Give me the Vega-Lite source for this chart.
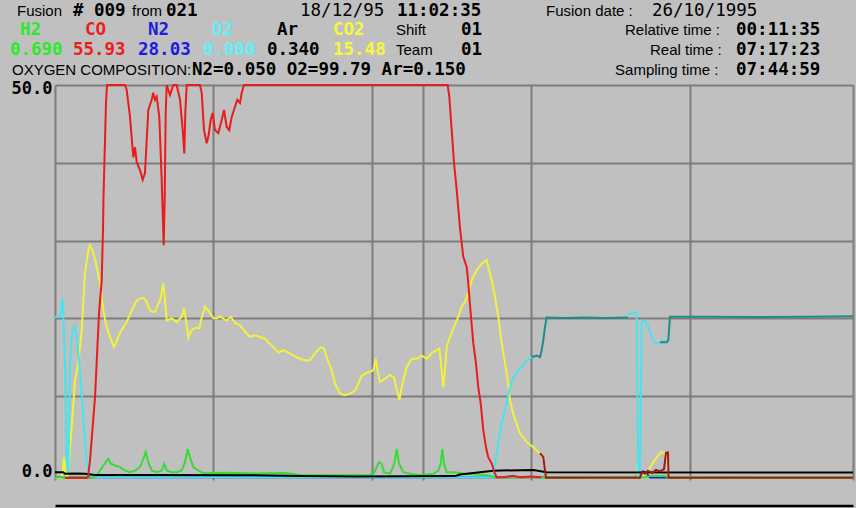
{
"$schema": "https://vega.github.io/schema/vega-lite/v6.json",
"width": 798, "height": 395,
"autosize": {"type": "none"},
"padding": {"left": 55, "top": 85, "right": 3, "bottom": 28},
"background": "#C0C0C0",
"config": {"view": {"stroke": null}},
"datasets": {
"gas": [
{"gas":"CO","t":10,"v":-0.55},{"gas":"CO","t":32,"v":-0.55},{"gas":"CO","t":33,"v":-0.4},{"gas":"CO","t":35,"v":1.7},{"gas":"CO","t":40,"v":9.8},{"gas":"CO","t":44,"v":20.6},{"gas":"CO","t":46.7,"v":24.9},{"gas":"CO","t":48,"v":31.3},{"gas":"CO","t":48.5,"v":35.6},{"gas":"CO","t":51,"v":47.7},{"gas":"CO","t":52,"v":50},{"gas":"CO","t":70,"v":50},{"gas":"CO","t":71.7,"v":49.35},{"gas":"CO","t":75,"v":45.9},{"gas":"CO","t":78.3,"v":40.7},{"gas":"CO","t":80,"v":42.0},{"gas":"CO","t":81.7,"v":40.1},{"gas":"CO","t":85,"v":39.05},{"gas":"CO","t":87.7,"v":37.8},{"gas":"CO","t":90,"v":38.7},{"gas":"CO","t":91.7,"v":42.9},{"gas":"CO","t":93.3,"v":46.8},{"gas":"CO","t":96.7,"v":48.1},{"gas":"CO","t":98.3,"v":49.0},{"gas":"CO","t":100,"v":48.1},{"gas":"CO","t":101.7,"v":48.5},{"gas":"CO","t":104.3,"v":45.9},{"gas":"CO","t":106.7,"v":37.8},{"gas":"CO","t":107.7,"v":33.5},{"gas":"CO","t":108.7,"v":29.4},{"gas":"CO","t":109.7,"v":35.6},{"gas":"CO","t":110.7,"v":46.4},{"gas":"CO","t":111.7,"v":50},{"gas":"CO","t":115,"v":48.7},{"gas":"CO","t":118.3,"v":50},{"gas":"CO","t":121.7,"v":50},{"gas":"CO","t":125,"v":48.1},{"gas":"CO","t":127.7,"v":44.2},{"gas":"CO","t":129.3,"v":41.2},{"gas":"CO","t":130.3,"v":46.4},{"gas":"CO","t":131.7,"v":50},{"gas":"CO","t":145,"v":50},{"gas":"CO","t":146.7,"v":49.0},{"gas":"CO","t":149,"v":44.2},{"gas":"CO","t":151.7,"v":42.5},{"gas":"CO","t":153.3,"v":43.3},{"gas":"CO","t":155.7,"v":45.5},{"gas":"CO","t":157.7,"v":46.4},{"gas":"CO","t":160,"v":44.2},{"gas":"CO","t":163.3,"v":43.8},{"gas":"CO","t":166.7,"v":45.5},{"gas":"CO","t":169,"v":46.8},{"gas":"CO","t":171.7,"v":44.6},{"gas":"CO","t":174.3,"v":44.2},{"gas":"CO","t":176.7,"v":45.9},{"gas":"CO","t":180,"v":47.2},{"gas":"CO","t":182.3,"v":48.1},{"gas":"CO","t":185,"v":47.7},{"gas":"CO","t":186.7,"v":49.0},{"gas":"CO","t":189,"v":50},{"gas":"CO","t":392.7,"v":50},{"gas":"CO","t":394.3,"v":48.5},{"gas":"CO","t":396.7,"v":44.2},{"gas":"CO","t":399,"v":40.0},{"gas":"CO","t":401.7,"v":36.5},{"gas":"CO","t":405,"v":31.6},{"gas":"CO","t":406.7,"v":29.65},{"gas":"CO","t":408.3,"v":27.9},{"gas":"CO","t":411.7,"v":26.6},{"gas":"CO","t":413.3,"v":24.5},{"gas":"CO","t":415.7,"v":20.6},{"gas":"CO","t":418.3,"v":16.8},{"gas":"CO","t":421,"v":14.2},{"gas":"CO","t":423.3,"v":11.1},{"gas":"CO","t":425.7,"v":9.05},{"gas":"CO","t":428.3,"v":5.6},{"gas":"CO","t":431,"v":3.4},{"gas":"CO","t":433.3,"v":2.1},{"gas":"CO","t":436.7,"v":1.33},{"gas":"CO","t":439.3,"v":0.2},{"gas":"CO","t":441.7,"v":-0.44},{"gas":"CO","t":450,"v":-0.4},{"gas":"CO","t":458,"v":-0.25},{"gas":"CO","t":465,"v":-0.45},{"gas":"CO","t":475,"v":-0.35},{"gas":"CO","t":486,"v":-0.45},

{"gas":"CO hold","t":485,"v":2.65},{"gas":"CO hold","t":488.3,"v":2.14},{"gas":"CO hold","t":490,"v":0.42},{"gas":"CO hold","t":491,"v":-0.5},{"gas":"CO hold","t":585,"v":-0.5},{"gas":"CO hold","t":587,"v":0.2},{"gas":"CO hold","t":590,"v":0.0},{"gas":"CO hold","t":593,"v":0.4},{"gas":"CO hold","t":597,"v":0.1},{"gas":"CO hold","t":601,"v":0.5},{"gas":"CO hold","t":605,"v":0.3},{"gas":"CO hold","t":609,"v":0.6},{"gas":"CO hold","t":611,"v":2.7},{"gas":"CO hold","t":613,"v":2.75},{"gas":"CO hold","t":613.5,"v":-0.5},{"gas":"CO hold","t":798,"v":-0.5},

{"gas":"CO2","t":0,"v":-0.5},{"gas":"CO2","t":7,"v":-0.5},{"gas":"CO2","t":9,"v":2.1},{"gas":"CO2","t":11,"v":-0.5},{"gas":"CO2","t":12.5,"v":-0.4},{"gas":"CO2","t":14,"v":1.7},{"gas":"CO2","t":16.7,"v":6.0},{"gas":"CO2","t":20,"v":12.0},{"gas":"CO2","t":23.3,"v":14.2},{"gas":"CO2","t":26.7,"v":18.4},{"gas":"CO2","t":30,"v":25.8},{"gas":"CO2","t":33.3,"v":28.8},{"gas":"CO2","t":35,"v":29.4},{"gas":"CO2","t":38.3,"v":28.4},{"gas":"CO2","t":41.7,"v":26.6},{"gas":"CO2","t":45,"v":24.5},{"gas":"CO2","t":48.3,"v":21.0},{"gas":"CO2","t":51.7,"v":18.8},{"gas":"CO2","t":55,"v":17.6},{"gas":"CO2","t":59,"v":16.3},{"gas":"CO2","t":63.3,"v":17.6},{"gas":"CO2","t":65,"v":18.1},{"gas":"CO2","t":68.3,"v":18.8},{"gas":"CO2","t":71.7,"v":19.5},{"gas":"CO2","t":76.7,"v":21.0},{"gas":"CO2","t":81.7,"v":22.3},{"gas":"CO2","t":86.7,"v":22.6},{"gas":"CO2","t":88.3,"v":22.6},{"gas":"CO2","t":91,"v":22.3},{"gas":"CO2","t":95,"v":21.0},{"gas":"CO2","t":98.3,"v":20.8},{"gas":"CO2","t":100,"v":20.8},{"gas":"CO2","t":103.3,"v":21.9},{"gas":"CO2","t":105,"v":22.2},{"gas":"CO2","t":108.3,"v":24.5},{"gas":"CO2","t":110,"v":22.3},{"gas":"CO2","t":111.7,"v":19.7},{"gas":"CO2","t":116.7,"v":20.0},{"gas":"CO2","t":121.7,"v":19.5},{"gas":"CO2","t":126.7,"v":20.2},{"gas":"CO2","t":129,"v":21.3},{"gas":"CO2","t":131,"v":19.7},{"gas":"CO2","t":133.3,"v":17.5},{"gas":"CO2","t":136.7,"v":18.5},{"gas":"CO2","t":141.7,"v":18.8},{"gas":"CO2","t":144.3,"v":18.7},{"gas":"CO2","t":146.7,"v":20.1},{"gas":"CO2","t":150,"v":21.5},{"gas":"CO2","t":153.3,"v":21.0},{"gas":"CO2","t":158.3,"v":20.0},{"gas":"CO2","t":161.7,"v":20.0},{"gas":"CO2","t":165,"v":20.2},{"gas":"CO2","t":171.7,"v":19.7},{"gas":"CO2","t":175.7,"v":20.2},{"gas":"CO2","t":180,"v":19.4},{"gas":"CO2","t":185,"v":19.1},{"gas":"CO2","t":190,"v":18.3},{"gas":"CO2","t":195,"v":17.6},{"gas":"CO2","t":200,"v":17.8},{"gas":"CO2","t":205,"v":17.6},{"gas":"CO2","t":210,"v":17.4},{"gas":"CO2","t":213.3,"v":16.9},{"gas":"CO2","t":218.3,"v":16.3},{"gas":"CO2","t":223.3,"v":15.6},{"gas":"CO2","t":228.3,"v":15.9},{"gas":"CO2","t":233.3,"v":15.6},{"gas":"CO2","t":238.3,"v":15.2},{"gas":"CO2","t":245,"v":14.8},{"gas":"CO2","t":250,"v":14.6},{"gas":"CO2","t":255,"v":14.6},{"gas":"CO2","t":260,"v":15.5},{"gas":"CO2","t":265.7,"v":16.3},{"gas":"CO2","t":269,"v":16.1},{"gas":"CO2","t":271.7,"v":15.0},{"gas":"CO2","t":276.7,"v":13.3},{"gas":"CO2","t":280,"v":11.6},{"gas":"CO2","t":285,"v":10.3},{"gas":"CO2","t":290,"v":10.1},{"gas":"CO2","t":295,"v":10.3},{"gas":"CO2","t":300,"v":10.7},{"gas":"CO2","t":303.3,"v":11.6},{"gas":"CO2","t":306.7,"v":12.6},{"gas":"CO2","t":311.7,"v":13.0},{"gas":"CO2","t":315,"v":13.1},{"gas":"CO2","t":318.3,"v":13.3},{"gas":"CO2","t":320.7,"v":14.8},{"gas":"CO2","t":322.7,"v":13.1},{"gas":"CO2","t":325,"v":11.8},{"gas":"CO2","t":330,"v":12.2},{"gas":"CO2","t":335,"v":12.7},{"gas":"CO2","t":339,"v":12.4},{"gas":"CO2","t":342.3,"v":10.5},{"gas":"CO2","t":344.5,"v":9.5},{"gas":"CO2","t":346.7,"v":11.2},{"gas":"CO2","t":351.7,"v":13.7},{"gas":"CO2","t":356.7,"v":14.8},{"gas":"CO2","t":361.7,"v":14.8},{"gas":"CO2","t":366.7,"v":15.2},{"gas":"CO2","t":371.7,"v":14.8},{"gas":"CO2","t":376.7,"v":15.5},{"gas":"CO2","t":381.7,"v":15.9},{"gas":"CO2","t":384.3,"v":16.1},{"gas":"CO2","t":386.7,"v":13.3},{"gas":"CO2","t":388.3,"v":11.1},{"gas":"CO2","t":390,"v":13.3},{"gas":"CO2","t":391.7,"v":16.3},{"gas":"CO2","t":395,"v":17.6},{"gas":"CO2","t":399,"v":18.9},{"gas":"CO2","t":403.3,"v":20.2},{"gas":"CO2","t":406.7,"v":21.5},{"gas":"CO2","t":410,"v":22.1},{"gas":"CO2","t":413.3,"v":23.2},{"gas":"CO2","t":416.7,"v":24.9},{"gas":"CO2","t":421.7,"v":26.2},{"gas":"CO2","t":426.7,"v":27.0},{"gas":"CO2","t":431.7,"v":27.5},{"gas":"CO2","t":433.3,"v":26.6},{"gas":"CO2","t":436.7,"v":24.9},{"gas":"CO2","t":440,"v":22.7},{"gas":"CO2","t":443.3,"v":20.2},{"gas":"CO2","t":446.7,"v":16.8},{"gas":"CO2","t":450,"v":14.2},{"gas":"CO2","t":453.3,"v":11.6},{"gas":"CO2","t":455,"v":9.4},{"gas":"CO2","t":458.3,"v":7.7},{"gas":"CO2","t":461.7,"v":6.4},{"gas":"CO2","t":465,"v":5.2},{"gas":"CO2","t":471.7,"v":4.1},{"gas":"CO2","t":478.3,"v":3.4},{"gas":"CO2","t":483.3,"v":2.8},{"gas":"CO2","t":485,"v":2.65},{"gas":"CO2","t":488.3,"v":2.1},{"gas":"CO2","t":490,"v":0.4},{"gas":"CO2","t":491,"v":-0.5},{"gas":"CO2","t":582,"v":-0.5},{"gas":"CO2","t":583.3,"v":1.7},{"gas":"CO2","t":585,"v":-0.3},{"gas":"CO2","t":588.3,"v":-0.44},{"gas":"CO2","t":593.3,"v":0.42},{"gas":"CO2","t":598.3,"v":1.5},{"gas":"CO2","t":603.3,"v":2.4},{"gas":"CO2","t":606.7,"v":2.8},{"gas":"CO2","t":610,"v":2.6},{"gas":"CO2","t":612.3,"v":2.1},{"gas":"CO2","t":613.5,"v":-0.5},{"gas":"CO2","t":798,"v":-0.5},

{"gas":"O2","seg":1,"t":0,"v":20.16},{"gas":"O2","seg":1,"t":5,"v":20.16},{"gas":"O2","seg":1,"t":7.7,"v":22.6},{"gas":"O2","seg":1,"t":10,"v":14.2},{"gas":"O2","seg":1,"t":11.7,"v":1.7},{"gas":"O2","seg":1,"t":13.3,"v":0.0},{"gas":"O2","seg":1,"t":15,"v":14.2},{"gas":"O2","seg":1,"t":16.7,"v":17.6},{"gas":"O2","seg":1,"t":18.3,"v":18.7},{"gas":"O2","seg":1,"t":20,"v":18.9},{"gas":"O2","seg":1,"t":21.7,"v":17.6},{"gas":"O2","seg":1,"t":25,"v":13.3},{"gas":"O2","seg":1,"t":28.3,"v":7.3},{"gas":"O2","seg":1,"t":31.7,"v":1.3},{"gas":"O2","seg":1,"t":35,"v":-0.2},{"gas":"O2","seg":1,"t":38,"v":-0.45},{"gas":"O2","seg":1,"t":439,"v":-0.45},{"gas":"O2","seg":1,"t":440,"v":1.3},{"gas":"O2","seg":1,"t":443.3,"v":3.9},{"gas":"O2","seg":1,"t":446.7,"v":6.4},{"gas":"O2","seg":1,"t":450,"v":8.2},{"gas":"O2","seg":1,"t":454.3,"v":10.7},{"gas":"O2","seg":1,"t":458.3,"v":12.4},{"gas":"O2","seg":1,"t":463.3,"v":13.3},{"gas":"O2","seg":1,"t":466.7,"v":13.7},{"gas":"O2","seg":1,"t":471.7,"v":14.6},{"gas":"O2","seg":1,"t":476.7,"v":15.0},{"gas":"O2","seg":1,"t":480,"v":15.1},
{"gas":"O2","seg":2,"t":572,"v":20.4},{"gas":"O2","seg":2,"t":581.7,"v":20.8},{"gas":"O2","seg":2,"t":583.3,"v":-0.4},{"gas":"O2","seg":2,"t":585,"v":-0.4},{"gas":"O2","seg":2,"t":586.7,"v":19.5},{"gas":"O2","seg":2,"t":590,"v":19.7},{"gas":"O2","seg":2,"t":593.3,"v":18.9},{"gas":"O2","seg":2,"t":596.7,"v":17.6},{"gas":"O2","seg":2,"t":600,"v":16.8},{"gas":"O2","seg":2,"t":605,"v":16.9},{"gas":"O2","seg":2,"t":610,"v":17.2},

{"gas":"O2 stable","seg":1,"t":476.7,"v":15.0},{"gas":"O2 stable","seg":1,"t":481.7,"v":15.2},{"gas":"O2 stable","seg":1,"t":485,"v":15.0},{"gas":"O2 stable","seg":1,"t":486.7,"v":15.9},{"gas":"O2 stable","seg":1,"t":488.3,"v":17.2},{"gas":"O2 stable","seg":1,"t":490,"v":18.9},{"gas":"O2 stable","seg":1,"t":491.7,"v":20.1},{"gas":"O2 stable","seg":1,"t":510,"v":20.05},{"gas":"O2 stable","seg":1,"t":530,"v":20.1},{"gas":"O2 stable","seg":1,"t":550,"v":20.05},{"gas":"O2 stable","seg":1,"t":573,"v":20.1},
{"gas":"O2 stable","seg":2,"t":605,"v":16.9},{"gas":"O2 stable","seg":2,"t":611.7,"v":16.9},{"gas":"O2 stable","seg":2,"t":613.3,"v":17.2},{"gas":"O2 stable","seg":2,"t":615,"v":20.2},{"gas":"O2 stable","seg":2,"t":650,"v":20.2},{"gas":"O2 stable","seg":2,"t":700,"v":20.15},{"gas":"O2 stable","seg":2,"t":750,"v":20.2},{"gas":"O2 stable","seg":2,"t":798,"v":20.25},

{"gas":"H2","t":0,"v":-0.45},{"gas":"H2","t":38,"v":-0.45},{"gas":"H2","t":41.7,"v":-0.2},{"gas":"H2","t":45,"v":0.42},{"gas":"H2","t":48.3,"v":1.07},{"gas":"H2","t":51.7,"v":1.7},{"gas":"H2","t":53.3,"v":1.9},{"gas":"H2","t":55.7,"v":1.3},{"gas":"H2","t":60,"v":1.07},{"gas":"H2","t":65,"v":0.85},{"gas":"H2","t":70,"v":0.42},{"gas":"H2","t":75,"v":0.2},{"gas":"H2","t":80,"v":0.42},{"gas":"H2","t":85,"v":0.85},{"gas":"H2","t":88.3,"v":1.9},{"gas":"H2","t":90.7,"v":2.8},{"gas":"H2","t":93.3,"v":1.5},{"gas":"H2","t":96.7,"v":0.42},{"gas":"H2","t":101.7,"v":0.2},{"gas":"H2","t":106.7,"v":0.42},{"gas":"H2","t":109.3,"v":1.3},{"gas":"H2","t":111.7,"v":0.42},{"gas":"H2","t":116.7,"v":0.2},{"gas":"H2","t":121.7,"v":0.2},{"gas":"H2","t":126.7,"v":0.42},{"gas":"H2","t":130,"v":1.5},{"gas":"H2","t":132.7,"v":3.2},{"gas":"H2","t":135,"v":2.1},{"gas":"H2","t":138.3,"v":0.85},{"gas":"H2","t":143.3,"v":0.42},{"gas":"H2","t":148.3,"v":0.08},{"gas":"H2","t":170,"v":0.12},{"gas":"H2","t":200,"v":0.05},{"gas":"H2","t":230,"v":0.1},{"gas":"H2","t":245,"v":-0.15},{"gas":"H2","t":280,"v":-0.2},{"gas":"H2","t":315,"v":-0.15},{"gas":"H2","t":319,"v":0.1},{"gas":"H2","t":321.7,"v":0.85},{"gas":"H2","t":324,"v":1.5},{"gas":"H2","t":326.7,"v":1.3},{"gas":"H2","t":329,"v":0.2},{"gas":"H2","t":335,"v":0.0},{"gas":"H2","t":339.3,"v":1.29},{"gas":"H2","t":341.7,"v":3.2},{"gas":"H2","t":344,"v":1.29},{"gas":"H2","t":348.3,"v":0.2},{"gas":"H2","t":355,"v":0.0},{"gas":"H2","t":365,"v":-0.2},{"gas":"H2","t":378.3,"v":0.0},{"gas":"H2","t":383.3,"v":0.42},{"gas":"H2","t":385.7,"v":1.29},{"gas":"H2","t":387.3,"v":3.2},{"gas":"H2","t":389,"v":1.29},{"gas":"H2","t":391.7,"v":0.2},{"gas":"H2","t":398.3,"v":0.2},{"gas":"H2","t":411.7,"v":0.0},{"gas":"H2","t":431.7,"v":-0.2},{"gas":"H2","t":440,"v":-0.45},{"gas":"H2","t":590,"v":-0.45},{"gas":"H2","t":595,"v":-0.3},{"gas":"H2","t":610,"v":-0.3},{"gas":"H2","t":613,"v":-0.45},{"gas":"H2","t":798,"v":-0.45},

{"gas":"N2","t":0,"v":-0.46},{"gas":"N2","t":580,"v":-0.46},{"gas":"N2","t":585,"v":0.1},{"gas":"N2","t":588,"v":0.3},{"gas":"N2","t":592,"v":0.0},{"gas":"N2","t":595,"v":-0.48},{"gas":"N2","t":798,"v":-0.48},

{"gas":"Ar","t":0,"v":0.2},{"gas":"Ar","t":8,"v":0.2},{"gas":"Ar","t":10,"v":0.0},{"gas":"Ar","t":20,"v":0.05},{"gas":"Ar","t":30,"v":0.0},{"gas":"Ar","t":40,"v":-0.15},{"gas":"Ar","t":100,"v":-0.15},{"gas":"Ar","t":200,"v":-0.2},{"gas":"Ar","t":245,"v":-0.3},{"gas":"Ar","t":300,"v":-0.35},{"gas":"Ar","t":400,"v":-0.3},{"gas":"Ar","t":405,"v":-0.1},{"gas":"Ar","t":425,"v":0.2},{"gas":"Ar","t":438.3,"v":0.4},{"gas":"Ar","t":478.3,"v":0.5},{"gas":"Ar","t":491.7,"v":0.2},{"gas":"Ar","t":798,"v":0.15}
],
"header": [
{"text":"Fusion","kind":"label","tone":"text","row":1,"col":1.59},
{"text":"# 009","kind":"value","tone":"text","row":1,"col":6.82},
{"text":"from","kind":"label","tone":"text","row":1,"col":12.34},
{"text":"021","kind":"value","tone":"text","row":1,"col":15.51},
{"text":"18/12/95","kind":"date","tone":"text","row":1,"col":28.04},
{"text":"11:02:35","kind":"value","tone":"text","row":1,"col":37.1},
{"text":"Fusion date :","kind":"label","tone":"text","row":1,"col":51.03},
{"text":"26/10/1995","kind":"date","tone":"text","row":1,"col":60.93},
{"text":"H2","kind":"value","tone":"H2","row":2,"col":1.87},
{"text":"CO","kind":"value","tone":"CO","row":2,"col":7.94},
{"text":"N2","kind":"value","tone":"N2","row":2,"col":13.83},
{"text":"O2","kind":"value","tone":"O2","row":2,"col":19.81},
{"text":"Ar","kind":"value","tone":"Ar","row":2,"col":25.89},
{"text":"CO2","kind":"value","tone":"CO2","row":2,"col":31.12},
{"text":"Shift","kind":"label","tone":"text","row":2,"col":37.01},
{"text":"01","kind":"value","tone":"text","row":2,"col":43.08},
{"text":"Relative time :","kind":"label","tone":"text","row":2,"col":58.41},
{"text":"00:11:35","kind":"value","tone":"text","row":2,"col":68.79},
{"text":"0.690","kind":"value","tone":"H2","row":3,"col":0.93},
{"text":"55.93","kind":"value","tone":"CO","row":3,"col":6.82},
{"text":"28.03","kind":"value","tone":"N2","row":3,"col":12.9},
{"text":"0.000","kind":"value","tone":"O2","row":3,"col":18.97},
{"text":"0.340","kind":"value","tone":"Ar","row":3,"col":24.95},
{"text":"15.48","kind":"value","tone":"CO2","row":3,"col":31.12},
{"text":"Team","kind":"label","tone":"text","row":3,"col":37.01},
{"text":"01","kind":"value","tone":"text","row":3,"col":43.08},
{"text":"Real time :","kind":"label","tone":"text","row":3,"col":60.75},
{"text":"07:17:23","kind":"value","tone":"text","row":3,"col":68.79},
{"text":"OXYGEN COMPOSITION:","kind":"label","tone":"text","row":4,"col":1.12},
{"text":"N2=0.050 O2=99.79 Ar=0.150","kind":"value","tone":"text","row":4,"col":17.94},
{"text":"Sampling time :","kind":"label","tone":"text","row":4,"col":57.48},
{"text":"07:44:59","kind":"value","tone":"text","row":4,"col":68.79}
]
},
"layer": [
{
"data": {"name": "gas"},
"encoding": {
"x": {"field": "t", "type": "quantitative", "scale": {"domain": [0, 798], "nice": false, "zero": false},
 "axis": {"values": [0, 158, 317, 368, 476, 635, 798], "labels": false, "ticks": false, "title": null, "grid": true, "gridColor": "#7d7d7d", "gridWidth": 2, "domain": true, "domainColor": "#000000", "domainWidth": 2.5, "offset": 25.5}},
"y": {"field": "v", "type": "quantitative", "scale": {"domain": [-0.8, 50], "nice": false, "zero": false},
 "axis": {"values": [0, 10, 20, 30, 40, 50], "labelExpr": "datum.value == 0 || datum.value == 50 ? format(datum.value, '.1f') : ''", "title": null, "ticks": false, "domain": false, "grid": true, "gridColor": "#7d7d7d", "gridWidth": 2, "gridOpacity": {"condition": {"test": "datum.value == 0", "value": 0}, "value": 1}, "labelFont": "DejaVu Sans Mono", "labelFontWeight": "bold", "labelFontSize": 17, "labelColor": "#000000", "labelPadding": 3, "labelOffset": {"condition": {"test": "datum.value == 50", "value": 3}, "value": -2}}},
"color": {"field": "gas", "type": "nominal", "legend": null,
 "scale": {"domain": ["CO2", "O2", "O2 stable", "H2", "N2", "Ar", "CO", "CO hold"], "range": ["#F2F23A", "#46E4EE", "#1E8C8C", "#36DC36", "#1A1AC8", "#000000", "#E81C1C", "#A01818"]}}
},
"layer": [
{"transform": [{"filter": "datum.gas == 'N2'"}], "mark": {"type": "line", "strokeWidth": 2}, "encoding": {}},
{"transform": [{"filter": "datum.gas == 'CO2'"}], "mark": {"type": "line", "strokeWidth": 2}, "encoding": {}},
{"transform": [{"filter": "datum.gas == 'O2'"}], "mark": {"type": "line", "strokeWidth": 2}, "encoding": {"detail": {"field": "seg", "type": "nominal"}}},
{"transform": [{"filter": "datum.gas == 'O2 stable'"}], "mark": {"type": "line", "strokeWidth": 2}, "encoding": {"detail": {"field": "seg", "type": "nominal"}}},
{"transform": [{"filter": "datum.gas == 'H2'"}], "mark": {"type": "line", "strokeWidth": 2}, "encoding": {}},
{"transform": [{"filter": "datum.gas == 'Ar'"}], "mark": {"type": "line", "strokeWidth": 2}, "encoding": {}},
{"transform": [{"filter": "datum.gas == 'CO'"}], "mark": {"type": "line", "strokeWidth": 2}, "encoding": {}},
{"transform": [{"filter": "datum.gas == 'CO hold'"}], "mark": {"type": "line", "strokeWidth": 2}, "encoding": {}}
]
},
{
"data": {"name": "header"},
"encoding": {
"x": {"field": "col", "type": "quantitative", "scale": {"domain": [0, 80], "range": [-55, 801], "nice": false, "zero": false}, "axis": null},
"y": {"field": "row", "type": "quantitative", "scale": {"domain": [1, 4], "range": [-74.5, -15.1], "nice": false, "zero": false}, "axis": null},
"text": {"field": "text"},
"color": {"field": "tone", "type": "nominal", "legend": null,
 "scale": {"domain": ["H2", "CO", "N2", "O2", "Ar", "CO2", "text"], "range": ["#2EE82E", "#EE1C1C", "#1C1CE0", "#66EEF4", "#000000", "#F8F83A", "#000000"]}}
},
"layer": [
{"transform": [{"filter": "datum.kind == 'label'"}], "mark": {"type": "text", "align": "left", "baseline": "middle", "font": "Liberation Sans", "fontSize": 15}},
{"transform": [{"filter": "datum.kind == 'value'"}], "mark": {"type": "text", "align": "left", "baseline": "middle", "font": "DejaVu Sans Mono", "fontWeight": "bold", "fontSize": 17.5}},
{"transform": [{"filter": "datum.kind == 'date'"}], "mark": {"type": "text", "align": "left", "baseline": "middle", "font": "DejaVu Sans Mono", "fontSize": 17.5}}
]
}
],
"resolve": {"scale": {"x": "independent", "y": "independent", "color": "independent"}}
}
